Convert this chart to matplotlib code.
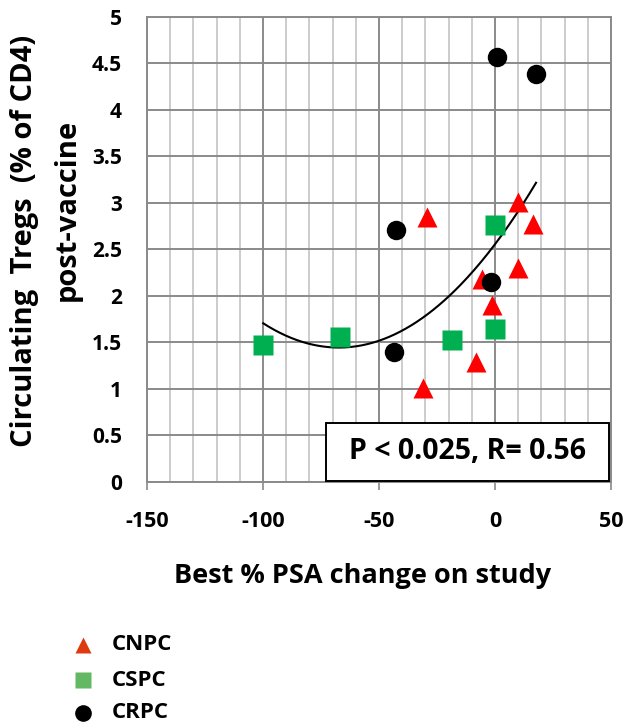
import numpy as np
import matplotlib.pyplot as plt
from matplotlib.lines import Line2D
from matplotlib.patches import Rectangle

plt.rcParams['font.family'] = ['Open Sans', 'DejaVu Sans']
plt.rcParams['font.weight'] = 'bold'
plt.rcParams['axes.unicode_minus'] = False

# CNPC (red triangles)
cnpc_x = [-29.5, 9.8, 16.5, 9.8, -5.7, -1.4, -8.2, -31.2]
cnpc_y = [2.85, 3.01, 2.77, 2.30, 2.18, 1.90, 1.29, 1.01]
# CSPC (green squares)
cspc_x = [0.0, 0.0, -18.4, -99.9, -66.7]
cspc_y = [2.76, 1.65, 1.53, 1.47, 1.56]
# CRPC (black circles)
crpc_x = [1.0, 17.7, -42.8, -1.7, -43.5]
crpc_y = [4.57, 4.39, 2.71, 2.15, 1.40]

all_x = np.array(cnpc_x + cspc_x + crpc_x)
all_y = np.array(cnpc_y + cspc_y + crpc_y)
coef = np.polyfit(all_x, all_y, 2)  # Excel-style polynomial trendline

W, H = 626, 725
fig = plt.figure(figsize=(W / 100, H / 100), dpi=100)
ax = fig.add_axes([0.2348, 0.3352, 0.7412, 0.6414])

ax.set_xlim(-150, 50)
ax.set_ylim(0, 5)
ax.set_xticks(np.arange(-150, 51, 50))
ax.set_xticks(np.arange(-150, 51, 10), minor=True)
ax.set_yticks(np.arange(0, 5.01, 0.5))
ax.set_yticklabels(['0', '0.5', '1', '1.5', '2', '2.5', '3', '3.5', '4', '4.5', '5'])
ax.grid(which='minor', axis='x', color='#c4c4c4', lw=1.2)
ax.grid(which='major', axis='x', color='#8a8a8a', lw=1.4)
ax.grid(which='major', axis='y', color='#8a8a8a', lw=1.4)
ax.set_axisbelow(True)
for s in ax.spines.values():
    s.set_color('#8a8a8a')
    s.set_linewidth(1.4)
ax.tick_params(axis='x', which='major', length=6, color='#8a8a8a', width=1.2, labelsize=15.5, pad=15)
ax.tick_params(axis='x', which='minor', length=0)
ax.tick_params(axis='y', length=0, labelsize=15, pad=18)

xs = np.linspace(all_x.min(), all_x.max(), 200)
ax.plot(xs, np.polyval(coef, xs), color='black', lw=1.5, zorder=2)

ax.plot(cnpc_x, cnpc_y, '^', color='#ff0000', ms=14, mec='none', zorder=3)
ax.plot(cspc_x, cspc_y, 's', color='#00b050', ms=14, mec='none', zorder=3)
ax.plot(crpc_x, crpc_y, 'o', color='black', ms=14, mec='none', zorder=4)

fig.text(363 / W, 1 - 576 / H, 'Best % PSA change on study', ha='center', va='center',
         fontsize=19.5, fontweight='bold')
fig.text(25 / W, 1 - 241 / H, 'Circulating  Tregs  (% of CD4)', rotation=90, ha='center',
         va='center', fontsize=21, fontweight='bold')
fig.text(67 / W, 1 - 210 / H, 'post-vaccine', rotation=90, ha='center', va='center',
         fontsize=21, fontweight='bold')

ax.add_patch(Rectangle((0.386, 0.003), 0.61, 0.124, transform=ax.transAxes,
                       fc='white', ec='black', lw=1.4, zorder=5))
ax.text(0.69, 0.065, 'P < 0.025, R= 0.56', transform=ax.transAxes, ha='center', va='center',
        fontsize=20.5, fontweight='bold', zorder=6)

# legend below the chart
leg_labels = ['CNPC', 'CSPC', 'CRPC']
leg_markers = ['^', 's', 'o']
leg_colors = ['#dd3a10', '#63b863', 'black']
leg_y = [645, 680, 713]
for lab, mk, c, py in zip(leg_labels, leg_markers, leg_colors, leg_y):
    fy = 1 - py / H
    fig.add_artist(Line2D([83 / W], [fy], marker=mk, color=c, ms=12, mec='none',
                          transform=fig.transFigure))
    fig.text(112 / W, fy, lab, ha='left', va='center', fontsize=16, fontweight='bold')

fig.savefig('out.png', dpi=100)
